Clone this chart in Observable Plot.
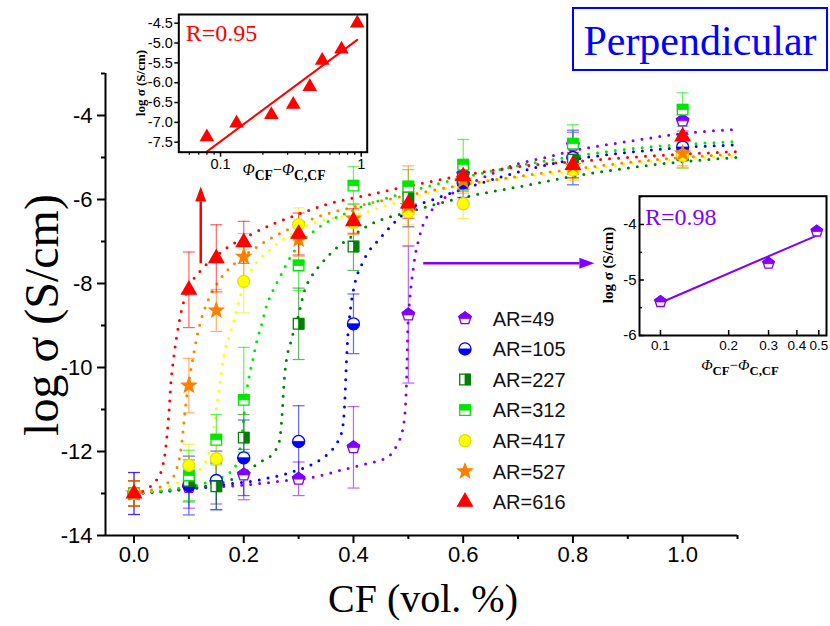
<!DOCTYPE html>
<html>
<head>
<meta charset="utf-8">
<script src="https://cdn.jsdelivr.net/npm/d3@7"></script>
<script src="https://cdn.jsdelivr.net/npm/@observablehq/plot@0.6"></script>
<style>
html,body{margin:0;padding:0;background:#fff;}
#wrap{position:relative;width:830px;height:626px;overflow:hidden;background:#fff;}
#wrap > svg{position:absolute;}
</style>
</head>
<body>
<div id="wrap"></div>
<script>
// ================= DATA =================
const cfLevels = [0, 0.1, 0.15, 0.2, 0.3, 0.4, 0.5, 0.6, 0.8, 1.0];
const seriesNames = ["AR=49", "AR=105", "AR=227", "AR=312", "AR=417", "AR=527", "AR=616"];

const logS_AR49  = [-13, -12.85, -12.75, -12.55, -12.65, -11.9, -8.74, -5.4, -4.7, -4.12];
const err_AR49   = [0.5, 0.5, 0.5, 0.6, 0.4, 0.97, 1.63, 0.3, 0.3, 0.25];
const logS_AR105 = [-13, -12.81, -12.69, -12.15, -11.76, -8.96, -6.2, -5.6, -5.0, -4.75];
const err_AR105  = [0.5, 0.7, 0.7, 0.9, 0.85, 0.71, 0.45, 0.35, 0.65, 0.3];
const logS_AR227 = [-13, -12.7, -12.83, -11.67, -8.96, -7.12, -5.95, -5.5, -5.05, -4.95];
const err_AR227  = [0.3, 0.5, 0.55, 0.55, 0.85, 0.57, 0.35, 0.3, 0.35, 0.3];
const logS_AR312 = [-13, -12.57, -11.72, -10.77, -7.57, -5.67, -5.69, -5.17, -4.67, -3.86];
const err_AR312  = [0.3, 0.6, 0.6, 1.25, 0.6, 0.45, 0.4, 0.6, 0.45, 0.4];
const logS_AR417 = [-13, -12.33, -12.17, -7.95, -6.6, -6.55, -6.3, -6.1, -5.3, -4.95];
const err_AR417  = [0.3, 0.5, 0.6, 0.75, 0.4, 0.3, 0.3, 0.35, 0.25, 0.3];
const logS_AR527 = [-13, -10.43, -8.64, -7.36, -6.95, -6.45, -6.15, -5.55, -5.2, -4.9];
const err_AR527  = [0.3, 0.65, 0.5, 0.55, 0.4, 0.35, 0.95, 0.3, 0.3, 0.3];
const logS_AR616 = [-13, -8.15, -7.4, -7.02, -6.82, -6.52, -6.1, -5.45, -5.18, -4.5];
const err_AR616  = [0.3, 0.9, 0.8, 0.5, 0.5, 0.3, 0.35, 0.3, 0.3, 0.35];

// fitted (dotted) curves: [CF, log sigma]
const fit_AR49 = [[0,-13],[0.1,-12.88],[0.2,-12.8],[0.279,-12.69],[0.327,-12.61],[0.376,-12.45],[0.424,-12.29],[0.461,-12.14],[0.479,-11.85],[0.49,-11.46],[0.495,-10.86],[0.497,-10.2],[0.499,-9.12],[0.503,-8.33],[0.509,-7.65],[0.513,-7.29],[0.518,-7.0],[0.527,-6.6],[0.54,-6.3],[0.558,-6.05],[0.594,-5.75],[0.65,-5.4],[0.7,-5.15],[0.75,-5.0],[0.8,-4.84],[0.9,-4.62],[1.0,-4.43],[1.1,-4.33]];
const fit_AR105 = [[0,-13],[0.055,-12.95],[0.127,-12.85],[0.176,-12.77],[0.224,-12.69],[0.249,-12.62],[0.273,-12.55],[0.297,-12.45],[0.321,-12.33],[0.339,-12.2],[0.358,-12.0],[0.372,-11.75],[0.38,-11.45],[0.384,-10.86],[0.387,-9.91],[0.39,-9.2],[0.395,-8.56],[0.403,-7.97],[0.415,-7.55],[0.427,-7.25],[0.442,-7.02],[0.46,-6.75],[0.48,-6.48],[0.5,-6.25],[0.55,-5.98],[0.6,-5.75],[0.7,-5.35],[0.8,-5.05],[0.9,-4.88],[1.0,-4.76],[1.1,-4.7]];
const fit_AR227 = [[0,-13],[0.1,-12.88],[0.176,-12.68],[0.23,-12.25],[0.255,-12.02],[0.265,-11.75],[0.27,-11.1],[0.273,-10.45],[0.277,-9.9],[0.285,-9.43],[0.3,-8.75],[0.31,-8.2],[0.325,-7.8],[0.34,-7.55],[0.355,-7.33],[0.4,-6.85],[0.43,-6.6],[0.5,-6.3],[0.6,-5.95],[0.7,-5.7],[0.8,-5.45],[0.9,-5.25],[1.0,-5.1],[1.1,-5.0]];
const fit_AR312 = [[0,-13],[0.08,-12.88],[0.13,-12.75],[0.165,-12.58],[0.185,-12.35],[0.195,-11.8],[0.2,-11.2],[0.205,-10.6],[0.21,-10.2],[0.216,-9.85],[0.224,-9.36],[0.233,-8.96],[0.24,-8.6],[0.252,-8.2],[0.264,-7.89],[0.291,-7.25],[0.312,-6.93],[0.333,-6.7],[0.4,-6.25],[0.5,-5.82],[0.6,-5.48],[0.7,-5.2],[0.8,-4.98],[0.9,-4.8],[1.0,-4.69],[1.1,-4.62]];
const fit_AR417 = [[0,-13],[0.05,-12.88],[0.085,-12.72],[0.11,-12.55],[0.125,-12.35],[0.135,-12.1],[0.145,-11.5],[0.151,-10.9],[0.157,-10.35],[0.164,-9.7],[0.173,-9.28],[0.182,-8.88],[0.195,-8.25],[0.212,-7.72],[0.236,-7.33],[0.255,-7.12],[0.279,-6.88],[0.303,-6.7],[0.336,-6.52],[0.4,-6.38],[0.5,-5.98],[0.6,-5.65],[0.7,-5.47],[0.8,-5.33],[0.9,-5.15],[1.0,-5.03],[1.1,-4.97]];
const fit_AR527 = [[0,-13],[0.04,-12.88],[0.065,-12.7],[0.078,-12.4],[0.086,-11.9],[0.091,-11.3],[0.095,-10.8],[0.1,-10.35],[0.107,-9.8],[0.115,-9.25],[0.122,-8.88],[0.135,-8.4],[0.158,-7.88],[0.19,-7.45],[0.218,-7.18],[0.26,-6.85],[0.3,-6.6],[0.333,-6.42],[0.4,-6.18],[0.5,-5.9],[0.6,-5.65],[0.7,-5.45],[0.8,-5.28],[0.9,-5.12],[1.0,-5.0],[1.1,-4.92]];
const fit_AR616 = [[0,-13],[0.025,-12.88],[0.04,-12.7],[0.05,-12.45],[0.057,-12.0],[0.061,-11.5],[0.064,-11.0],[0.067,-10.4],[0.072,-9.8],[0.079,-9.16],[0.088,-8.56],[0.1,-8.1],[0.121,-7.7],[0.145,-7.4],[0.173,-7.12],[0.206,-6.88],[0.254,-6.58],[0.3,-6.35],[0.35,-6.12],[0.424,-5.9],[0.52,-5.63],[0.62,-5.38],[0.7,-5.22],[0.8,-5.1],[0.9,-5.0],[1.0,-4.92],[1.1,-4.86]];

// axes ticks
const xMajorTicks = [0, 0.2, 0.4, 0.6, 0.8, 1.0];
const xMinorTicks = [0.1, 0.3, 0.5, 0.7, 0.9, 1.1];
const yMajorTicks = [-14, -12, -10, -8, -6, -4];
const yMinorTicks = [-13, -11, -9, -7, -5, -3];

// inset: AR=616 (red)
const insetRed_phi  = [0.080, 0.130, 0.230, 0.329, 0.431, 0.528, 0.724, 0.937];
const insetRed_logS = [-7.37, -7.02, -6.81, -6.55, -6.1, -5.44, -5.16, -4.5];
const insetRed_fitPhi  = [0.0804, 0.937];
const insetRed_fitLogS = [-7.73, -4.92];
const insetRed_yTicks = [-7.5, -7.0, -6.5, -6.0, -5.5, -5.0, -4.5];
const insetRed_xTicks = [0.1, 1];
const insetRed_xMinor = [0.06, 0.07, 0.08, 0.09, 0.2, 0.3, 0.4, 0.5, 0.6, 0.7, 0.8, 0.9];
const insetRed_R = "R=0.95";

// inset: AR=49 (purple)
const insetPur_phi  = [0.1, 0.3, 0.49];
const insetPur_logS = [-5.39, -4.70, -4.12];
const insetPur_fitPhi  = [0.1, 0.495];
const insetPur_fitLogS = [-5.41, -4.19];
const insetPur_yTicks = [-6, -5, -4];
const insetPur_yMinor = [-5.5, -4.5, -3.5];
const insetPur_xTicks = [0.1, 0.2, 0.3, 0.4, 0.5];
const insetPur_R = "R=0.98";

// annotation arrows (data coordinates)
const arrowRed = {cf: 0.1225, from: -7.53, to: -5.7};
const arrowPurple = {v: -7.53, from: 0.528, to: 0.84};

// ================= STYLES / SYMBOLS =================
function mk(f){ return {draw(c, size){ f(c, Math.sqrt(size/Math.PI)); }}; }
function poly(c, pts){ pts.forEach((p,i)=> i ? c.lineTo(p[0],p[1]) : c.moveTo(p[0],p[1])); c.closePath(); }
const SYM = {
  pentagon: mk((c,R)=>poly(c, d3.range(5).map(i=>{const a=-Math.PI/2+i*2*Math.PI/5; return [R*Math.cos(a), R*Math.sin(a)];}))),
  pentagonTop: mk((c,R)=>poly(c, [[0,-R],[0.951*R,-0.309*R],[0.86*R,0.05*R],[-0.86*R,0.05*R],[-0.951*R,-0.309*R]])),
  circle: mk((c,R)=>{ c.moveTo(R,0); c.arc(0,0,R,0,2*Math.PI); c.closePath(); }),
  circleBottom: mk((c,R)=>{ c.moveTo(R,0); c.arc(0,0,R,0,Math.PI); c.closePath(); }),
  square: mk((c,R)=>poly(c, [[-R,-R],[R,-R],[R,R],[-R,R]])),
  squareRight: mk((c,R)=>poly(c, [[0,-R],[R,-R],[R,R],[0,R]])),
  squareTop: mk((c,R)=>poly(c, [[-R,-R],[R,-R],[R,0],[-R,0]])),
  triangle: mk((c,R)=>poly(c, [[0,-R],[0.866*R,0.5*R],[-0.866*R,0.5*R]])),
  star: mk((c,R)=>{ const r=R*0.42; poly(c, d3.range(10).map(i=>{const a=-Math.PI/2+i*Math.PI/5, rr=i%2?r:R; return [rr*Math.cos(a), rr*Math.sin(a)];})); }),
  cap: mk((c,R)=>{ c.moveTo(-R,0); c.lineTo(R,0); })
};
const seriesStyle = [
  {color:"#8000ff", base:SYM.pentagon, half:SYM.pentagonTop, r:6.5, fill:"white"},
  {color:"#0000ff", base:SYM.circle,   half:SYM.circleBottom, r:6, fill:"white"},
  {color:"#008000", base:SYM.square,   half:SYM.squareRight, r:5.3, fill:"white"},
  {color:"#00e600", base:SYM.square,   half:SYM.squareTop, r:5.3, fill:"white"},
  {color:"#ffff00", base:SYM.circle,   half:null, r:6, fill:"#ffff00", stroke:"#e0e000"},
  {color:"#ff8000", base:SYM.star,     half:null, r:7.5, fill:"#ff8000"},
  {color:"#ff0000", base:SYM.triangle, half:null, r:8.5, fill:"#ff0000"}
];
const logS = [logS_AR49, logS_AR105, logS_AR227, logS_AR312, logS_AR417, logS_AR527, logS_AR616];
const errs = [err_AR49, err_AR105, err_AR227, err_AR312, err_AR417, err_AR527, err_AR616];
const fits = [fit_AR49, fit_AR105, fit_AR227, fit_AR312, fit_AR417, fit_AR527, fit_AR616];

const SANS = "'Liberation Sans', Arial, Helvetica, sans-serif";
const SERIF = "'Liberation Serif', 'Times New Roman', serif";

// ================= MAIN PLOT =================
const rows = seriesNames.map((name,k)=> cfLevels.map((cf,i)=>({cf, v: logS[k][i], e: errs[k][i], k})));

const marks = [];
fits.forEach((pts,k)=>{
  marks.push(Plot.line(pts, {curve:"monotone-x", stroke: seriesStyle[k].color, strokeWidth: 3, strokeDasharray: "0,9", strokeLinecap: "round"}));
});
rows.forEach((rs,k)=>{
  const c = seriesStyle[k].color === "#ffff00" ? "#e8e800" : seriesStyle[k].color;
  marks.push(Plot.ruleX(rs, {x:"cf", y1: d=>d.v-d.e, y2: d=>d.v+d.e, stroke: c, strokeOpacity: 0.6, strokeWidth: 1.2}));
  marks.push(Plot.dot(rs, {x:"cf", y: d=>d.v+d.e, symbol: SYM.cap, r: 6, stroke: c, fill:"none", strokeOpacity: 0.6, strokeWidth: 1.2}));
  marks.push(Plot.dot(rs, {x:"cf", y: d=>d.v-d.e, symbol: SYM.cap, r: 6, stroke: c, fill:"none", strokeOpacity: 0.6, strokeWidth: 1.2}));
});
rows.forEach((rs,k)=>{
  const s = seriesStyle[k];
  marks.push(Plot.dot(rs, {x:"cf", y:"v", symbol: s.base, r: s.r, fill: s.fill, stroke: s.stroke || s.color, strokeWidth: 1.3}));
  if (s.half) marks.push(Plot.dot(rs, {x:"cf", y:"v", symbol: s.half, r: s.r, fill: s.color, stroke: s.color, strokeWidth: 0.8}));
});

const main = Plot.plot({
  width: 830, height: 626,
  marginLeft: 105, marginRight: 93, marginTop: 73, marginBottom: 91,
  x: {domain: [-0.052, 1.1]},
  y: {domain: [-14, -3]},
  style: {fontFamily: SANS, color: "black", background: "white", overflow: "visible"},
  marks: [
    Plot.axisY({ticks: yMajorTicks, tickSize: 8, tickPadding: 5, fontSize: 22, tickFormat: d=>String(d), strokeWidth: 2, label: null}),
    Plot.axisY({ticks: yMinorTicks, tickSize: 4, tickFormat: ()=>"", strokeWidth: 2, label: null}),
    Plot.axisX({ticks: xMajorTicks, tickSize: 8, tickPadding: 3, fontSize: 22, tickFormat: d=>d.toFixed(1), strokeWidth: 2, label: null}),
    Plot.axisX({ticks: xMinorTicks, tickSize: 4, tickFormat: ()=>"", strokeWidth: 2, label: null}),
    Plot.ruleX([-0.052], {strokeWidth: 2}),
    Plot.ruleY([-14], {strokeWidth: 2}),
    ...marks
  ]
});
main.style.left = "0px"; main.style.top = "0px";
document.getElementById("wrap").appendChild(main);

const X = main.scale("x"), Y = main.scale("y");
const svg = d3.select(main);

// axis titles
svg.append("text").attr("x", 423).attr("y", 612).attr("text-anchor","middle")
  .attr("font-family", SERIF).attr("font-size", 40).attr("fill","black").text("CF (vol. %)");
svg.append("text").attr("transform","translate(58,315) rotate(-90)").attr("text-anchor","middle")
  .attr("font-family", SERIF).attr("font-size", 48).attr("fill","black").text("log σ (S/cm)");

// title box
svg.append("rect").attr("x",573).attr("y",8).attr("width",254).attr("height",62)
  .attr("fill","white").attr("stroke","#0000ff").attr("stroke-width",2);
svg.append("text").attr("x",700).attr("y",55).attr("text-anchor","middle")
  .attr("font-family", SERIF).attr("font-size", 42).attr("fill","#0000ff").text("Perpendicular");

// legend
seriesNames.forEach((name,k)=>{
  const s = seriesStyle[k];
  const g = svg.append("g").attr("transform", `translate(465,${318.3 + k*30.6})`);
  g.append("path").attr("d", d3.symbol(s.base, Math.PI*s.r*s.r)()).attr("fill", s.fill).attr("stroke", s.stroke || s.color).attr("stroke-width",1.3);
  if (s.half) g.append("path").attr("d", d3.symbol(s.half, Math.PI*s.r*s.r)()).attr("fill", s.color).attr("stroke", s.color).attr("stroke-width",0.8);
  g.append("text").attr("x", 27.7).attr("y", 0).attr("dy","0.36em").attr("text-anchor","start")
    .attr("font-family", SANS).attr("font-size", 20).attr("fill","#111").text(name);
});

// arrows
function arrow(x1,y1,x2,y2,color){
  const L = Math.hypot(x2-x1,y2-y1), ux=(x2-x1)/L, uy=(y2-y1)/L, hl=15, hw=5.5;
  const bx = x2-ux*hl, by = y2-uy*hl;
  svg.append("line").attr("x1",x1).attr("y1",y1).attr("x2",bx).attr("y2",by).attr("stroke",color).attr("stroke-width",2.5);
  svg.append("path").attr("d",`M${x2},${y2}L${bx-uy*hw},${by+ux*hw}L${bx+uy*hw},${by-ux*hw}Z`).attr("fill",color);
}
arrow(X.apply(arrowRed.cf), Y.apply(arrowRed.from), X.apply(arrowRed.cf), Y.apply(arrowRed.to), "#ff0000");
arrow(X.apply(arrowPurple.from), Y.apply(arrowPurple.v), X.apply(arrowPurple.to), Y.apply(arrowPurple.v), "#8000ff");

// ================= INSET: RED =================
const redPts = insetRed_phi.map((p,i)=>({p, v: insetRed_logS[i]}));
const redFit = insetRed_fitPhi.map((p,i)=>({p, v: insetRed_fitLogS[i]}));
const insetR = Plot.plot({
  width: 260, height: 190,
  marginLeft: 58.3, marginRight: 13.3, marginTop: 14, marginBottom: 38.3,
  x: {type:"log", domain:[0.0505, 1.103]},
  y: {domain:[-7.752, -4.281]},
  style: {fontFamily: SANS, color: "black", background: "transparent", overflow: "visible"},
  marks: [
    Plot.axisY({ticks: insetRed_yTicks, tickSize: 4, tickPadding: 2, fontSize: 14.5, tickFormat: d=>d.toFixed(1), strokeWidth: 1.5, label: null}),
    Plot.axisX({ticks: insetRed_xTicks, tickSize: 5, tickPadding: 2, fontSize: 14.5, tickFormat: d=>String(d), strokeWidth: 1.5, label: null}),
    Plot.axisX({ticks: insetRed_xMinor, tickSize: 3, tickFormat: ()=>"", strokeWidth: 1.2, label: null}),
    Plot.line(redFit, {x:"p", y:"v", stroke:"#ff0000", strokeWidth: 2}),
    Plot.dot(redPts, {x:"p", y:"v", symbol: SYM.triangle, r: 7, fill:"#ff0000", stroke:"#ff0000"}),
    Plot.frame({stroke:"black", strokeWidth: 2})
  ]
});
insetR.style.left = "120px"; insetR.style.top = "0px";
document.getElementById("wrap").appendChild(insetR);
const sR = d3.select(insetR);
sR.append("text").attr("x", 65.7).attr("y", 40.7).attr("text-anchor","start").attr("font-family", SERIF).attr("font-size", 24).attr("fill","#ff0000").text(insetRed_R);
sR.append("text").attr("transform","translate(25,83) rotate(-90)").attr("text-anchor","middle")
  .attr("font-family", SERIF).attr("font-weight","bold").attr("font-size", 13).attr("fill","black").text("log σ (S/cm)");
function phiLabel(sel, x, y, fs){
  const t = sel.append("text").attr("x", x).attr("y", y).attr("text-anchor","middle").attr("font-family", SERIF).attr("font-size", fs).attr("fill","black");
  t.append("tspan").attr("font-style","italic").text("Φ");
  t.append("tspan").attr("font-weight","bold").attr("font-size", fs*0.85).attr("dy", fs*0.3).text("CF");
  t.append("tspan").attr("dy", -fs*0.3).text("−");
  t.append("tspan").attr("font-style","italic").text("Φ");
  t.append("tspan").attr("font-weight","bold").attr("font-size", fs*0.85).attr("dy", fs*0.3).text("C,CF");
}
phiLabel(sR, 164, 175, 16);

// ================= INSET: PURPLE =================
const purPts = insetPur_phi.map((p,i)=>({p, v: insetPur_logS[i]}));
const purFit = insetPur_fitPhi.map((p,i)=>({p, v: insetPur_fitLogS[i]}));
const insetP = Plot.plot({
  width: 240, height: 200,
  marginLeft: 49, marginRight: 4, marginTop: 10.7, marginBottom: 50,
  x: {type:"log", domain:[0.0808, 0.5406]},
  y: {domain:[-6, -3.49]},
  style: {fontFamily: SANS, color: "black", background: "transparent", overflow: "visible"},
  marks: [
    Plot.axisY({ticks: insetPur_yTicks, tickSize: 0, tickPadding: 3, fontSize: 15, tickFormat: d=>String(d), label: null}),
    Plot.axisY({ticks: insetPur_yTicks, tickSize: -5, tickPadding: 0, tickFormat: ()=>"", strokeWidth: 1.5, label: null}),
    Plot.axisY({ticks: insetPur_yMinor, tickSize: -3, tickPadding: 0, tickFormat: ()=>"", strokeWidth: 1.2, label: null}),
    Plot.axisX({ticks: insetPur_xTicks, tickSize: 0, tickPadding: 5, fontSize: 13.5, tickFormat: d=>String(d), label: null}),
    Plot.axisX({ticks: insetPur_xTicks, tickSize: -5, tickPadding: 0, tickFormat: ()=>"", strokeWidth: 1.5, label: null}),
    Plot.line(purFit, {x:"p", y:"v", stroke:"#8000ff", strokeWidth: 2}),
    Plot.dot(purPts, {x:"p", y:"v", symbol: SYM.pentagon, r: 6, fill:"white", stroke:"#8000ff", strokeWidth: 1.3}),
    Plot.dot(purPts, {x:"p", y:"v", symbol: SYM.pentagonTop, r: 6, fill:"#8000ff", stroke:"#8000ff", strokeWidth: 0.8}),
    Plot.frame({stroke:"black", strokeWidth: 2})
  ]
});
insetP.style.left = "590px"; insetP.style.top = "185px";
document.getElementById("wrap").appendChild(insetP);
const sP = d3.select(insetP);
sP.append("text").attr("x", 55).attr("y", 40).attr("text-anchor","start").attr("font-family", SERIF).attr("font-size", 24).attr("fill","#8000ff").text(insetPur_R);
sP.append("text").attr("transform","translate(23,80) rotate(-90)").attr("text-anchor","middle")
  .attr("font-family", SERIF).attr("font-weight","bold").attr("font-size", 15).attr("fill","black").text("log σ (S/cm)");
phiLabel(sP, 150, 185, 15);
</script>
</body>
</html>
